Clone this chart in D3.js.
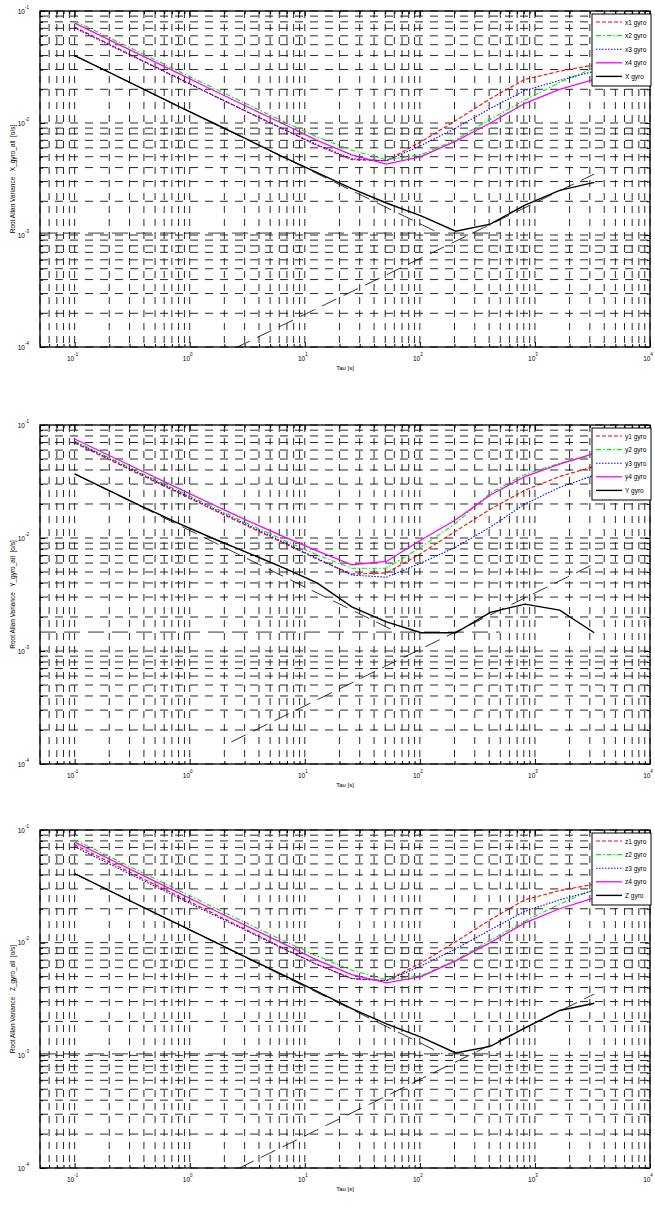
<!DOCTYPE html>
<html>
<head>
<meta charset="utf-8">
<script src="https://cdn.jsdelivr.net/npm/d3@7"></script>
<style>
body { margin: 0; background: #fff; }
text { font-family: "Liberation Sans", Arial, Helvetica, sans-serif; }
</style>
</head>
<body>
<div id="chart-area"></div>
<script>
// averaging times (s)
var tau = [0.1, 0.2, 0.4, 0.8, 1.6, 3.2, 6.4, 12.8, 25.6, 51.2, 102.4, 204.8, 409.6, 819.2, 1638.4, 3276.8];

var xMajor = [0.1, 1, 10, 100, 1000, 10000];
var xMajorExp = ["-1", "0", "1", "2", "3", "4"];
var yMajor = [1e-4, 1e-3, 1e-2, 1e-1];
var yMajorExp = ["-4", "-3", "-2", "-1"];

// X gyros
var x1 = [0.072, 0.0505, 0.0356, 0.0251, 0.0177, 0.0125, 0.0089, 0.0063, 0.0047, 0.0046, 0.0068, 0.0105, 0.0165, 0.0245, 0.029, 0.033];
var x2 = [0.0814, 0.0578, 0.041, 0.029, 0.0206, 0.0146, 0.0104, 0.0075, 0.0057, 0.0047, 0.0052, 0.0071, 0.0108, 0.016, 0.023, 0.031];
var x3 = [0.0705, 0.0497, 0.0352, 0.0249, 0.0176, 0.0125, 0.0089, 0.0064, 0.0048, 0.0046, 0.0063, 0.009, 0.0135, 0.0195, 0.024, 0.029];
var x4 = [0.078, 0.0553, 0.0391, 0.0277, 0.0196, 0.0139, 0.0099, 0.007, 0.0052, 0.0043, 0.005, 0.0069, 0.01, 0.015, 0.02, 0.0245];
var xAll = [0.04, 0.0283, 0.02, 0.0141, 0.01, 0.0071, 0.005, 0.0036, 0.0026, 0.00193, 0.00148, 0.00108, 0.00125, 0.00185, 0.0025, 0.00295];
var xArw = [[0.1, 0.04], [147, 0.00104]];
var xBias = [[0.05, 0.00104], [500, 0.00104]];
var xRrw = [[2.5, 0.000098], [3276.8, 0.0035]];

// Y gyros
var y1 = [0.0693, 0.0493, 0.0351, 0.025, 0.0178, 0.0127, 0.0091, 0.0065, 0.0048, 0.0049, 0.0073, 0.0115, 0.018, 0.0265, 0.035, 0.043];
var y2 = [0.072, 0.0513, 0.0366, 0.0262, 0.0187, 0.0134, 0.0097, 0.0071, 0.0054, 0.0054, 0.0083, 0.0135, 0.025, 0.0365, 0.046, 0.054];
var y3 = [0.0707, 0.0503, 0.0358, 0.0255, 0.0182, 0.013, 0.0093, 0.0066, 0.0047, 0.0045, 0.006, 0.0083, 0.0125, 0.02, 0.028, 0.036];
var y4 = [0.0752, 0.0537, 0.0384, 0.0275, 0.0197, 0.0142, 0.0104, 0.0077, 0.0058, 0.0062, 0.0096, 0.0145, 0.024, 0.035, 0.045, 0.056];
var yAll = [0.0369, 0.0262, 0.0187, 0.0135, 0.0099, 0.0074, 0.0055, 0.004, 0.00246, 0.00181, 0.00145, 0.00145, 0.0022, 0.0026, 0.0023, 0.00145];
var yArw = [[0.1, 0.0369], [63, 0.00147]];
var yBias = [[0.05, 0.00147], [500, 0.00147]];
var yRrw = [[2.3, 0.000157], [3276.8, 0.0059]];

// Z gyros
var z1 = [0.074, 0.052, 0.0366, 0.0258, 0.0182, 0.0128, 0.009, 0.0064, 0.0048, 0.0046, 0.0066, 0.0102, 0.016, 0.024, 0.029, 0.033];
var z2 = [0.082, 0.0582, 0.0412, 0.0292, 0.0207, 0.0147, 0.0105, 0.0076, 0.0057, 0.0047, 0.0051, 0.007, 0.0105, 0.0155, 0.022, 0.03];
var z3 = [0.071, 0.05, 0.0354, 0.025, 0.0177, 0.0126, 0.0089, 0.0064, 0.0048, 0.0046, 0.0062, 0.0088, 0.013, 0.019, 0.024, 0.029];
var z4 = [0.078, 0.0553, 0.0391, 0.0277, 0.0196, 0.0139, 0.0099, 0.007, 0.0052, 0.0044, 0.005, 0.0069, 0.01, 0.015, 0.02, 0.025];
var zAll = [0.041, 0.029, 0.0205, 0.0145, 0.0103, 0.0073, 0.0052, 0.0037, 0.0026, 0.0019, 0.00145, 0.00105, 0.0012, 0.00175, 0.0025, 0.0029];
var zArw = [[0.1, 0.041], [157, 0.00103]];
var zBias = [[0.05, 0.00103], [500, 0.00103]];
var zRrw = [[2.7, 0.0001], [3276.8, 0.0035]];

var styles = [
    {color: "#ff0000", dash: "4,2", width: 1.1},
    {color: "#00ee00", dash: "5,2,1.5,2", width: 1.1},
    {color: "#0000ff", dash: "1.5,1.5", width: 1.1},
    {color: "#ff00ff", dash: null, width: 1.3},
    {color: "#000000", dash: null, width: 1.4}
];

var panels = [
    {top: 11, bottom: 347, axisName: "X_gyro_all", names: ["x1 gyro", "x2 gyro", "x3 gyro", "x4 gyro", "X gyro"],
     series: [x1, x2, x3, x4, xAll], refs: [xArw, xBias, xRrw]},
    {top: 425, bottom: 764, axisName: "Y_gyro_all", names: ["y1 gyro", "y2 gyro", "y3 gyro", "y4 gyro", "Y gyro"],
     series: [y1, y2, y3, y4, yAll], refs: [yArw, yBias, yRrw]},
    {top: 830, bottom: 1168, axisName: "Z_gyro_all", names: ["z1 gyro", "z2 gyro", "z3 gyro", "z4 gyro", "Z gyro"],
     series: [z1, z2, z3, z4, zAll], refs: [zArw, zBias, zRrw]}
];

var left = 40, right = 650;

var svg = d3.select('#chart-area')
    .append('svg')
        .attr('width', 655)
        .attr('height', 1214);

panels.forEach(function (p, k) {
    var x = d3.scaleLog().domain([0.05, 10000]).range([left, right]);
    var y = d3.scaleLog().domain([1e-4, 1e-1]).range([p.bottom, p.top]);

    var g = svg.append("g");

    g.append("clipPath").attr("id", "clip" + k)
        .append("rect")
            .attr("x", left).attr("y", p.top)
            .attr("width", right - left).attr("height", p.bottom - p.top);

    // grid, every decade sub-division
    var xs = x.ticks();
    var ys = y.ticks();
    g.append("g").selectAll("line").data(xs).enter().append("line")
        .attr("x1", function (d) { return x(d); }).attr("x2", function (d) { return x(d); })
        .attr("y1", p.top).attr("y2", p.bottom)
        .attr("stroke", "#111").attr("stroke-width", 0.9).attr("stroke-dasharray", "7,6");
    g.append("g").selectAll("line").data(ys).enter().append("line")
        .attr("y1", function (d) { return y(d); }).attr("y2", function (d) { return y(d); })
        .attr("x1", left).attr("x2", right)
        .attr("stroke", "#111").attr("stroke-width", 0.9).attr("stroke-dasharray", "8,7");

    // ticks (inward, MATLAB style)
    var isMajor = function (d) { return Math.abs(Math.log10(d) - Math.round(Math.log10(d))) < 1e-6; };
    g.append("g").attr("transform", "translate(0," + p.bottom + ")")
        .call(d3.axisBottom(x).tickValues(xs).tickSizeInner(-3).tickSizeOuter(0).tickFormat(""))
        .call(function (s) { s.select(".domain").remove(); s.selectAll(".tick line").filter(isMajor).attr("y2", -5); });
    g.append("g").attr("transform", "translate(0," + p.top + ")")
        .call(d3.axisTop(x).tickValues(xs).tickSizeInner(-3).tickSizeOuter(0).tickFormat(""))
        .call(function (s) { s.select(".domain").remove(); s.selectAll(".tick line").filter(isMajor).attr("y2", 5); });
    g.append("g").attr("transform", "translate(" + left + ",0)")
        .call(d3.axisLeft(y).tickValues(ys).tickSizeInner(-3).tickSizeOuter(0).tickFormat(""))
        .call(function (s) { s.select(".domain").remove(); s.selectAll(".tick line").filter(isMajor).attr("x2", 5); });
    g.append("g").attr("transform", "translate(" + right + ",0)")
        .call(d3.axisRight(y).tickValues(ys).tickSizeInner(-3).tickSizeOuter(0).tickFormat(""))
        .call(function (s) { s.select(".domain").remove(); s.selectAll(".tick line").filter(isMajor).attr("x2", -5); });

    // box
    g.append("rect")
        .attr("x", left).attr("y", p.top)
        .attr("width", right - left).attr("height", p.bottom - p.top)
        .attr("fill", "none").attr("stroke", "#000").attr("stroke-width", 1.3);

    // tick labels
    xMajor.forEach(function (v, i) {
        var t = g.append("text")
            .attr("x", x(v) - 2).attr("y", p.bottom + 14)
            .attr("text-anchor", "middle").attr("font-size", "6.5px").text("10");
        t.append("tspan").attr("dy", -5).attr("font-size", "4.5px").text(xMajorExp[i]);
    });
    yMajor.forEach(function (v, i) {
        var t = g.append("text")
            .attr("x", left - 11).attr("y", y(v) + 2.5)
            .attr("text-anchor", "end").attr("font-size", "6.5px").text("10");
        t.append("tspan").attr("dy", -5).attr("font-size", "4.5px").text(yMajorExp[i]);
    });

    g.append("text")
        .attr("x", (left + right) / 2).attr("y", p.bottom + 23)
        .attr("text-anchor", "middle").attr("font-size", "6px")
        .text("Tau [s]");

    g.append("text")
        .attr("transform", "translate(15," + ((p.top + p.bottom) / 2) + ") rotate(-90)")
        .attr("text-anchor", "middle").attr("font-size", "6.5px")
        .style("white-space", "pre")
        .text("Root Allan Variance   " + p.axisName + "  [o/s]");

    var plot = g.append("g").attr("clip-path", "url(#clip" + k + ")");

    // reference slopes (dashed black)
    var refLine = d3.line().x(function (d) { return x(d[0]); }).y(function (d) { return y(d[1]); });
    p.refs.forEach(function (r) {
        plot.append("path").datum(r)
            .attr("d", refLine)
            .attr("fill", "none").attr("stroke", "#000").attr("stroke-width", 0.8)
            .attr("stroke-dasharray", "16,8");
    });

    var line = d3.line().x(function (d, i) { return x(tau[i]); }).y(function (d) { return y(d); });
    p.series.forEach(function (s, i) {
        plot.append("path").datum(s)
            .attr("d", line)
            .attr("fill", "none")
            .attr("stroke", styles[i].color)
            .attr("stroke-width", styles[i].width)
            .attr("stroke-dasharray", styles[i].dash);
    });

    // legend
    var lx = 592, ly = p.top + 3, rowH = 13.6;
    var lg = g.append("g");
    lg.append("rect")
        .attr("x", lx).attr("y", ly).attr("width", 59).attr("height", 72)
        .attr("fill", "#fff").attr("stroke", "#000").attr("stroke-width", 1);
    p.names.forEach(function (n, i) {
        var yy = ly + 8 + i * rowH;
        lg.append("line")
            .attr("x1", lx + 4).attr("x2", lx + 30).attr("y1", yy).attr("y2", yy)
            .attr("stroke", styles[i].color).attr("stroke-width", styles[i].width)
            .attr("stroke-dasharray", styles[i].dash);
        lg.append("text")
            .attr("x", lx + 33).attr("y", yy + 2.5)
            .attr("font-size", "6.5px").text(n);
    });
});
</script>
</body>
</html>
